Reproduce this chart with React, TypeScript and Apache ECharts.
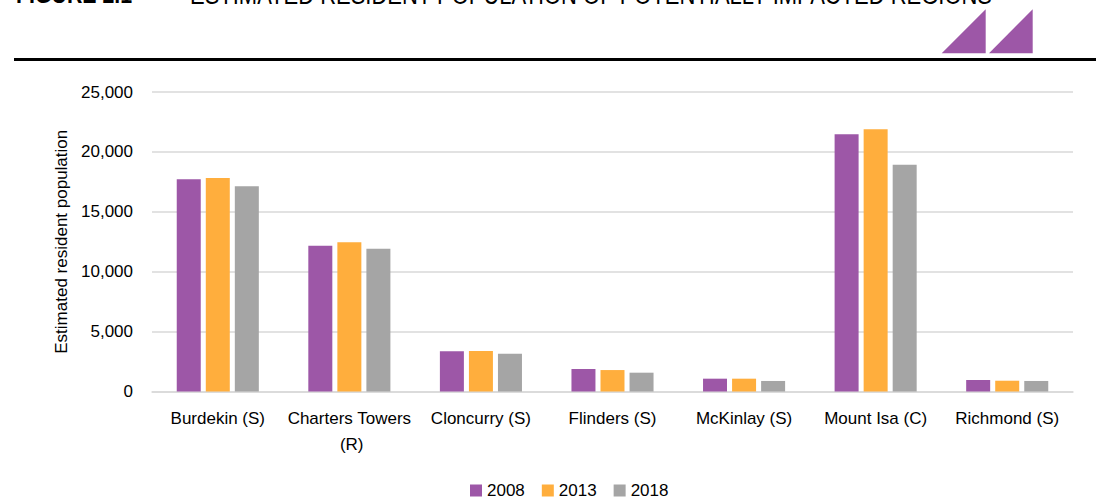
import React, { useEffect, useRef } from "react";
import * as echarts from "echarts";

const categories = [
  "Burdekin (S)",
  "Charters Towers (R)",
  "Cloncurry (S)",
  "Flinders (S)",
  "McKinlay (S)",
  "Mount Isa (C)",
  "Richmond (S)",
];
const seriesNames = ["2008", "2013", "2018"];
const pop2008 = [17710, 12170, 3360, 1880, 1070, 21470, 960];
const pop2013 = [17820, 12450, 3380, 1790, 1070, 21890, 900];
const pop2018 = [17130, 11920, 3160, 1570, 880, 18930, 880];
const yTicks = { min: 0, max: 25000, interval: 5000 };

const FIG_LABEL = "FIGURE 2.1";
const TITLE = "ESTIMATED RESIDENT POPULATION OF POTENTIALLY IMPACTED REGIONS";
const Y_NAME = "Estimated resident population";

const colors = ["#9D57A7", "#FFAE3D", "#A5A5A5"];
const FONT = "'Liberation Sans', Arial, sans-serif";
const FS = 17;

export default function App() {
  const ref = useRef<HTMLDivElement>(null);
  useEffect(() => {
    if (!ref.current) return;
    const chart = echarts.init(ref.current, undefined, { renderer: "svg" });
    const values = [pop2008, pop2013, pop2018];
    chart.setOption({
      animation: false,
      backgroundColor: "#ffffff",
      textStyle: { fontFamily: FONT },
      grid: { left: 152, right: 23, top: 92, bottom: 107.5, containLabel: false },
      legend: {
        left: 465,
        top: 477,
        icon: "rect",
        itemWidth: 12,
        itemHeight: 12,
        itemGap: 17,
        textStyle: { fontFamily: FONT, fontSize: FS, color: "#000" },
        data: seriesNames,
      },
      xAxis: {
        type: "category",
        data: categories,
        axisLine: { lineStyle: { color: "#d9d9d9", width: 1.5 } },
        axisTick: { show: false },
        axisLabel: {
          interval: 0,
          margin: 14,
          fontFamily: FONT,
          fontSize: FS,
          color: "#000",
          width: 128,
          overflow: "break",
          lineHeight: 26,
        },
      },
      yAxis: {
        type: "value",
        min: yTicks.min,
        max: yTicks.max,
        interval: yTicks.interval,
        name: Y_NAME,
        nameLocation: "middle",
        nameGap: 76,
        nameTextStyle: { fontFamily: FONT, fontSize: FS, color: "#000" },
        axisLine: { show: false },
        axisTick: { show: false },
        splitLine: { lineStyle: { color: "#d9d9d9", width: 1.5 } },
        axisLabel: {
          margin: 19,
          fontFamily: FONT,
          fontSize: FS,
          color: "#000",
          formatter: (v: number) => v.toLocaleString("en-US"),
        },
      },
      series: seriesNames.map((n, i) => ({
        name: n,
        type: "bar",
        data: values[i],
        barWidth: 24,
        barGap: "21%",
        itemStyle: { color: colors[i] },
      })),
      graphic: [
        {
          type: "text",
          x: 16,
          y: -19,
          scaleX: 0.82,
          style: {
            text: FIG_LABEL,
            x: 0,
            y: 0,
            verticalAlign: "top",
            fontFamily: FONT,
            fontWeight: "bold",
            fontSize: 26,
            fill: "#000",
          },
        },
        {
          type: "text",
          x: 190,
          y: -19,
          scaleX: 0.82,
          style: {
            text: TITLE,
            x: 0,
            y: 0,
            verticalAlign: "top",
            fontFamily: FONT,
            fontSize: 26.8,
            fill: "#000",
          },
        },
        {
          type: "polygon",
          shape: { points: [[941.7, 53.3], [985.7, 9.3], [985.7, 53.3]] },
          style: { fill: "#9D57A7" },
        },
        {
          type: "polygon",
          shape: { points: [[989, 53.3], [1032.7, 9.3], [1032.7, 53.3]] },
          style: { fill: "#9D57A7" },
        },
        {
          type: "rect",
          shape: { x: 14, y: 58, width: 1082, height: 3 },
          style: { fill: "#000" },
        },
      ],
    });
    return () => chart.dispose();
  }, []);
  return (
    <div
      ref={ref}
      style={{ position: "absolute", left: 0, top: 0, width: 1096, height: 499 }}
    />
  );
}
